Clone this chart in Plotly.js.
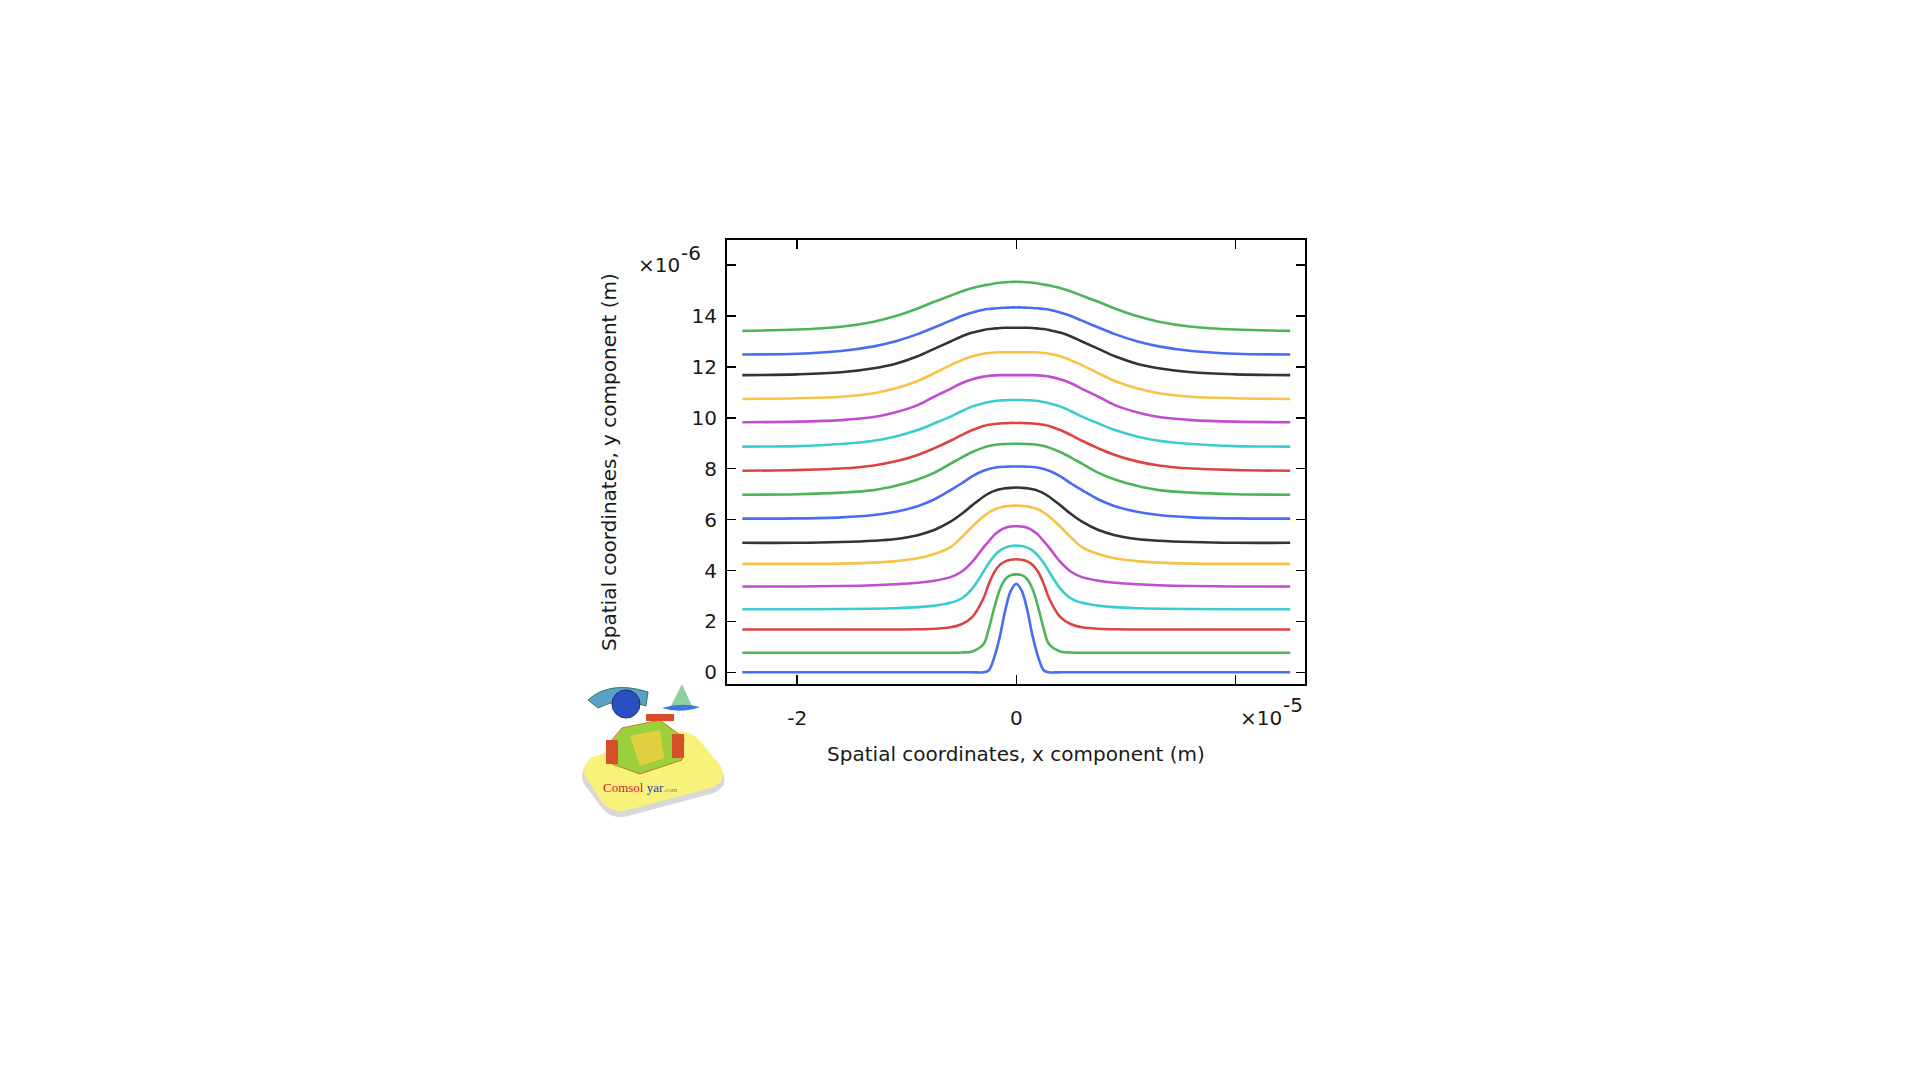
<!DOCTYPE html>
<html><head><meta charset="utf-8">
<script src="https://cdn.plot.ly/plotly-3.0.1.min.js"></script>
<style>html,body{margin:0;padding:0;background:#fff}#chart{width:1920px;height:1080px}</style>
</head><body><div id="chart"></div>
<script>
// x positions (units of 1e-5 m)
const xPos = [-2.5,-2,-1.6,-1.3,-1.1,-0.9,-0.75,-0.6,-0.5,-0.4,-0.3,-0.25,-0.2,-0.15,-0.1,-0.05,0,0.05,0.1,0.15,0.2,0.25,0.3,0.4,0.5,0.6,0.75,0.9,1.1,1.3,1.6,2,2.5];

// y values (units of 1e-6 m), one array per curve, bottom to top
const y01 = [0,0,0,0,0,0,0,0,0,0,0,0.08,0.6,1.4,2.45,3.2,3.48,3.2,2.45,1.4,0.6,0.08,0,0,0,0,0,0,0,0,0,0,0];
const y02 = [0.77,0.77,0.77,0.77,0.77,0.77,0.77,0.77,0.78,0.82,1.1,1.72,2.55,3.25,3.66,3.82,3.85,3.82,3.66,3.25,2.55,1.72,1.1,0.82,0.78,0.77,0.77,0.77,0.77,0.77,0.77,0.77,0.77];
const y03 = [1.68,1.68,1.68,1.68,1.68,1.69,1.71,1.77,1.89,2.18,2.9,3.48,3.94,4.22,4.36,4.42,4.44,4.42,4.36,4.22,3.94,3.48,2.9,2.18,1.89,1.77,1.71,1.69,1.68,1.68,1.68,1.68,1.68];
const y04 = [2.48,2.48,2.49,2.5,2.52,2.56,2.62,2.73,2.9,3.3,3.95,4.3,4.58,4.78,4.9,4.96,4.98,4.96,4.9,4.78,4.58,4.3,3.95,3.3,2.9,2.73,2.62,2.56,2.52,2.5,2.49,2.48,2.48];
const y05 = [3.37,3.37,3.39,3.42,3.46,3.52,3.6,3.74,3.95,4.35,4.9,5.15,5.4,5.57,5.68,5.73,5.74,5.73,5.68,5.57,5.4,5.15,4.9,4.35,3.95,3.74,3.6,3.52,3.46,3.42,3.39,3.37,3.37];
const y06 = [4.26,4.26,4.27,4.31,4.37,4.48,4.65,4.92,5.3,5.73,6.12,6.28,6.4,6.47,6.52,6.54,6.55,6.54,6.52,6.47,6.4,6.28,6.12,5.73,5.3,4.92,4.65,4.48,4.37,4.31,4.27,4.26,4.26];
const y07 = [5.09,5.09,5.12,5.17,5.24,5.39,5.59,5.92,6.22,6.57,6.9,7.03,7.13,7.19,7.23,7.25,7.26,7.25,7.23,7.19,7.13,7.03,6.9,6.57,6.22,5.92,5.59,5.39,5.24,5.17,5.12,5.09,5.09];
const y08 = [6.04,6.05,6.09,6.18,6.31,6.53,6.79,7.16,7.42,7.71,7.92,7.99,8.04,8.07,8.08,8.09,8.09,8.09,8.08,8.07,8.04,7.99,7.92,7.71,7.42,7.16,6.79,6.53,6.31,6.18,6.09,6.05,6.04];
const y09 = [6.98,7.0,7.06,7.16,7.33,7.58,7.84,8.2,8.44,8.66,8.83,8.89,8.93,8.96,8.97,8.98,8.98,8.98,8.97,8.96,8.93,8.89,8.83,8.66,8.44,8.2,7.84,7.58,7.33,7.16,7.06,7.0,6.98];
const y10 = [7.92,7.95,8.01,8.13,8.29,8.54,8.8,9.1,9.32,9.52,9.68,9.73,9.76,9.78,9.79,9.8,9.8,9.8,9.79,9.78,9.76,9.73,9.68,9.52,9.32,9.1,8.8,8.54,8.29,8.13,8.01,7.95,7.92];
const y11 = [8.87,8.89,8.97,9.1,9.27,9.52,9.78,10.05,10.26,10.45,10.57,10.62,10.66,10.68,10.69,10.7,10.7,10.7,10.69,10.68,10.66,10.62,10.57,10.45,10.26,10.05,9.78,9.52,9.27,9.1,8.97,8.89,8.87];
const y12 = [9.83,9.85,9.91,10.03,10.22,10.5,10.83,11.14,11.36,11.52,11.62,11.65,11.67,11.68,11.68,11.68,11.68,11.68,11.68,11.68,11.67,11.65,11.62,11.52,11.36,11.14,10.83,10.5,10.22,10.03,9.91,9.85,9.83];
const y13 = [10.74,10.77,10.83,10.97,11.16,11.45,11.75,12.07,12.26,12.42,12.52,12.55,12.57,12.58,12.58,12.58,12.58,12.58,12.58,12.58,12.57,12.55,12.52,12.42,12.26,12.07,11.75,11.45,11.16,10.97,10.83,10.77,10.74];
const y14 = [11.68,11.71,11.79,11.95,12.13,12.42,12.71,13.0,13.2,13.35,13.45,13.49,13.51,13.53,13.54,13.54,13.54,13.54,13.54,13.53,13.51,13.49,13.45,13.35,13.2,13.0,12.71,12.42,12.13,11.95,11.79,11.71,11.68];
const y15 = [12.49,12.52,12.63,12.81,13.01,13.29,13.55,13.82,14.0,14.14,14.25,14.28,14.3,14.32,14.33,14.34,14.34,14.34,14.33,14.32,14.3,14.28,14.25,14.14,14.0,13.82,13.55,13.29,13.01,12.81,12.63,12.52,12.49];
const y16 = [13.42,13.47,13.58,13.78,14.0,14.3,14.56,14.8,14.97,15.1,15.2,15.24,15.28,15.31,15.33,15.34,15.35,15.34,15.33,15.31,15.28,15.24,15.2,15.1,14.97,14.8,14.56,14.3,14.0,13.78,13.58,13.47,13.42];

const seriesY = [y01,y02,y03,y04,y05,y06,y07,y08,y09,y10,y11,y12,y13,y14,y15,y16];
const seriesColor = ["#4a6cf0","#4cb45a","#dc4444","#3ccccc","#c24ccf","#f6c24a","#333333",
                     "#4a6cf0","#4cb45a","#dc4444","#3ccccc","#c24ccf","#f6c24a","#333333",
                     "#4a6cf0","#4cb45a"];

const xTickVals = [-2,0,2];
const xTickText = ["-2","0",""];
const yTickVals = [0,2,4,6,8,10,12,14,16];
const yTickText = ["0","2","4","6","8","10","12","14",""];

const traces = seriesY.map((y,i)=>({
  x: xPos, y: y, type:'scatter', mode:'lines',
  line:{color:seriesColor[i], width:2.6, shape:'spline'},
  hoverinfo:'skip', showlegend:false
}));

// pixel -> paper helpers for the decorative logo and exponent labels
const L=727, R=1305, T=240, B=684;
const px = x => ((x-L)/(R-L)).toFixed(4);
const py = y => ((B-y)/(B-T)).toFixed(4);
function path(pts){
  return pts.map(p=>{
    const c=p[0]; const rest=[];
    for(let k=1;k<p.length;k+=2){ rest.push(px(p[k])+','+py(p[k+1])); }
    return c+rest.join(' ');
  }).join(' ')+' Z';
}
const shapes = [
  {type:'path', xref:'paper', yref:'paper', layer:'above',
   path: path([['M',584,784],['Q',578,772,590,760],['L',676,736],['Q',690,733,700,745],['L',722,771],['Q',730,785,714,793],['L',628,816],['Q',612,820,602,808]]),
   fillcolor:'#d8d8d8', line:{width:0}},
  {type:'path', xref:'paper', yref:'paper', layer:'above',
   path: path([['M',586,778],['Q',580,767,592,757],['L',676,732],['Q',690,729,700,741],['L',720,765],['Q',728,779,714,787],['L',628,810],['Q',612,814,602,802]]),
   fillcolor:'#f8f27a', line:{width:0}},
  // car body
  {type:'path', xref:'paper', yref:'paper', layer:'above',
   path: path([['M',622,728],['L',660,720],['L',684,738],['L',682,760],['L',640,774],['L',612,764],['L',610,742]]),
   fillcolor:'#9ccf3c', line:{color:'#c87a2a', width:1}},
  {type:'path', xref:'paper', yref:'paper', layer:'above',
   path: path([['M',630,736],['L',660,730],['L',664,758],['L',640,766]]),
   fillcolor:'#e0d040', line:{width:0}},
  {type:'rect', xref:'paper', yref:'paper', layer:'above', x0:px(606), x1:px(618), y0:py(740), y1:py(764), fillcolor:'#d8502a', line:{width:0}},
  {type:'rect', xref:'paper', yref:'paper', layer:'above', x0:px(672), x1:px(684), y0:py(734), y1:py(758), fillcolor:'#d8502a', line:{width:0}},
  {type:'rect', xref:'paper', yref:'paper', layer:'above', x0:px(646), x1:px(674), y0:py(714), y1:py(721), fillcolor:'#d84a2a', line:{width:0}},
  // globe + swoosh
  {type:'path', xref:'paper', yref:'paper', layer:'above',
   path: path([['M',588,700],['Q',610,680,648,692],['L',646,706],['Q',620,696,598,708]]),
   fillcolor:'#5aa0c8', line:{color:'#3a7a5a', width:1}},
  {type:'circle', xref:'paper', yref:'paper', layer:'above', x0:px(612), x1:px(640), y0:py(690), y1:py(718), fillcolor:'#2a4fc0', line:{color:'#1a2f80', width:1}},
  // cone
  {type:'path', xref:'paper', yref:'paper', layer:'above',
   path: path([['M',682,684],['L',692,706],['L',670,708]]),
   fillcolor:'#8fd0a0', line:{width:0}},
  {type:'path', xref:'paper', yref:'paper', layer:'above',
   path: path([['M',662,708],['Q',681,702,700,707],['Q',681,714,662,708]]),
   fillcolor:'#3a7ad8', line:{width:0}}
];

const baseFont = {family:'DejaVu Sans, Verdana, sans-serif', size:20, color:'#1a1a1a'};

const annotations = [
  {xref:'paper', yref:'paper', x:px(636), y:py(265), xanchor:'left', yanchor:'middle', showarrow:false, text:'×10', font:baseFont},
  {xref:'paper', yref:'paper', x:px(679), y:py(253), xanchor:'left', yanchor:'middle', showarrow:false, text:'-6', font:baseFont},
  {xref:'paper', yref:'paper', x:px(1238), y:py(717.5), xanchor:'left', yanchor:'middle', showarrow:false, text:'×10', font:baseFont},
  {xref:'paper', yref:'paper', x:px(1281), y:py(705), xanchor:'left', yanchor:'middle', showarrow:false, text:'-5', font:baseFont},
  {xref:'paper', yref:'paper', x:px(640), y:py(788), xanchor:'center', yanchor:'middle', showarrow:false,
   text:'<span style="color:#d0202a">Comsol</span> <span style="color:#2040b0">yar</span><span style="color:#5a9a9a;font-size:7px">.com</span>',
   font:{family:'Liberation Serif, serif', size:13}}
];

const layout = {
  width:1920, height:1080,
  margin:{l:L, r:1920-R, t:T, b:1080-B, pad:0},
  paper_bgcolor:'#ffffff', plot_bgcolor:'#ffffff',
  showlegend:false,
  font: baseFont,
  xaxis:{
    range:[-2.64,2.635], tickvals:xTickVals, ticktext:xTickText,
    ticks:'inside', ticklen:9, tickwidth:1.5, tickcolor:'#000',
    showline:true, linecolor:'#000', linewidth:2, mirror:'ticks',
    showgrid:false, zeroline:false, ticklabelstandoff:15,
    tickfont:baseFont,
    title:{text:'Spatial coordinates, x component (m)', font:baseFont, standoff:18}
  },
  yaxis:{
    range:[-0.46,16.99], tickvals:yTickVals, ticktext:yTickText,
    ticks:'inside', ticklen:9, tickwidth:1.5, tickcolor:'#000',
    showline:true, linecolor:'#000', linewidth:2, mirror:'ticks',
    showgrid:false, zeroline:false, ticklabelstandoff:4,
    tickfont:baseFont,
    title:{text:'Spatial coordinates, y component (m)', font:baseFont, standoff:70}
  },
  shapes: shapes,
  annotations: annotations
};

Plotly.newPlot('chart', traces, layout, {staticPlot:true, displayModeBar:false});
</script>
</body></html>
